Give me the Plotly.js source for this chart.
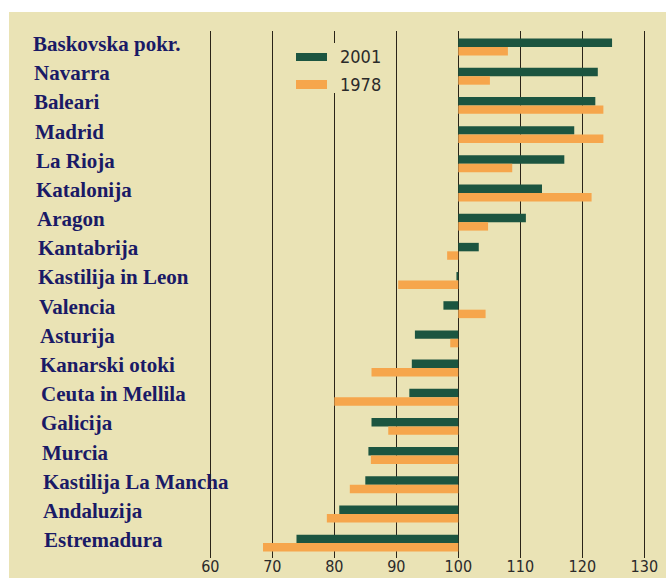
<!DOCTYPE html>
<html>
<head>
<meta charset="utf-8">
<script src="https://cdn.plot.ly/plotly-3.0.1.min.js"></script>
<style>
html,body{margin:0;padding:0;background:#fff;}
#chart{width:666px;height:578px;}
</style>
</head>
<body>
<div id="chart"></div>
<script>
// ---- data ----
var regions = ["Baskovska pokr.", "Navarra", "Baleari", "Madrid", "La Rioja", "Katalonija",
  "Aragon", "Kantabrija", "Kastilija in Leon", "Valencia", "Asturija", "Kanarski otoki",
  "Ceuta in Mellila", "Galicija", "Murcia", "Kastilija La Mancha", "Andaluzija", "Estremadura"];
var seriesNames = ["2001", "1978"];
var values2001 = [124.8, 122.5, 122.1, 118.7, 117.1, 113.5, 110.9, 103.3, 99.7, 97.6, 93.0, 92.5, 92.1, 86.0, 85.5, 85.0, 80.8, 73.9];
var values1978 = [108.0, 105.1, 123.4, 123.4, 108.7, 121.5, 104.8, 98.2, 90.3, 104.4, 98.7, 86.0, 80.0, 88.7, 85.9, 82.5, 78.8, 68.5];
var xTicks = [60, 70, 80, 90, 100, 110, 120, 130];
var baseValue = 100;

// ---- styling / layout ----
var W = 666, H = 578;
var M = {l: 9, r: 0, t: 31, b: 20};
var plotW = W - M.l - M.r, plotH = H - M.t - M.b;
function px(x){ return (x - M.l) / plotW; }
function py(y){ return (H - M.b - y) / plotH; }

var green = "#1C5540", orange = "#F6A64C", cream = "#EAE3B5", navy = "#1A1A66";
var narrow = "Liberation Sans Narrow, Arial Narrow, DejaVu Sans Condensed, sans-serif";

function diffs(arr){ return arr.map(function(v){ return v - baseValue; }); }

var traces = [
  {type: "bar", orientation: "h", name: seriesNames[0], y: regions, x: diffs(values2001),
   base: baseValue, marker: {color: green}, hoverinfo: "skip"},
  {type: "bar", orientation: "h", name: seriesNames[1], y: regions, x: diffs(values1978),
   base: baseValue, marker: {color: orange}, hoverinfo: "skip"}
];

var annotations = regions.map(function(r, i){
  return {xref: "paper", yref: "y", x: px(31), y: r, xanchor: "left", yanchor: "middle",
    xshift: Math.round(i * 0.65), yshift: 3, text: "<b>" + r + "</b>", showarrow: false,
    font: {family: "Liberation Serif, Times New Roman, serif", size: 21, color: navy}};
});
annotations.push({xref: "paper", yref: "paper", x: px(338), y: py(57), xanchor: "left", yanchor: "middle",
  text: seriesNames[0], showarrow: false, font: {family: narrow, size: 18, color: "#2a2a2a"}});
annotations.push({xref: "paper", yref: "paper", x: px(338), y: py(84), xanchor: "left", yanchor: "middle",
  text: seriesNames[1], showarrow: false, font: {family: narrow, size: 18, color: "#2a2a2a"}});

var shapes = [
  {type: "rect", xref: "paper", yref: "paper", x0: px(9), x1: px(667), y0: py(600), y1: py(12),
   fillcolor: cream, line: {width: 0}, layer: "below"},
  {type: "rect", xref: "paper", yref: "paper", x0: px(288), x1: px(386), y0: py(93), y1: py(43),
   fillcolor: cream, line: {width: 0}, layer: "above"},
  {type: "rect", xref: "paper", yref: "paper", x0: px(296), x1: px(327), y0: py(61), y1: py(53),
   fillcolor: green, line: {width: 0}, layer: "above"},
  {type: "rect", xref: "paper", yref: "paper", x0: px(296), x1: px(327), y0: py(89), y1: py(80),
   fillcolor: orange, line: {width: 0}, layer: "above"}
];

var layout = {
  width: W, height: H,
  margin: M,
  paper_bgcolor: "#ffffff",
  plot_bgcolor: "rgba(0,0,0,0)",
  barmode: "group",
  bargap: 0.42,
  bargroupgap: 0,
  showlegend: false,
  xaxis: {range: [27.53, 133.5], tickvals: xTicks, ticktext: xTicks.map(String),
    showgrid: true, gridcolor: "#2a2418", gridwidth: 1.5, zeroline: false, showline: false,
    ticks: "", ticklabelstandoff: -3,
    tickfont: {family: narrow, size: 16, color: "#2a2a2a"}, fixedrange: true},
  yaxis: {type: "category", categoryorder: "array", categoryarray: regions,
    range: [17.51, -0.55], showticklabels: false, showgrid: false, zeroline: false,
    showline: false, ticks: "", fixedrange: true},
  shapes: shapes,
  annotations: annotations
};

Plotly.newPlot("chart", traces, layout, {staticPlot: true, displayModeBar: false});
</script>
</body>
</html>
